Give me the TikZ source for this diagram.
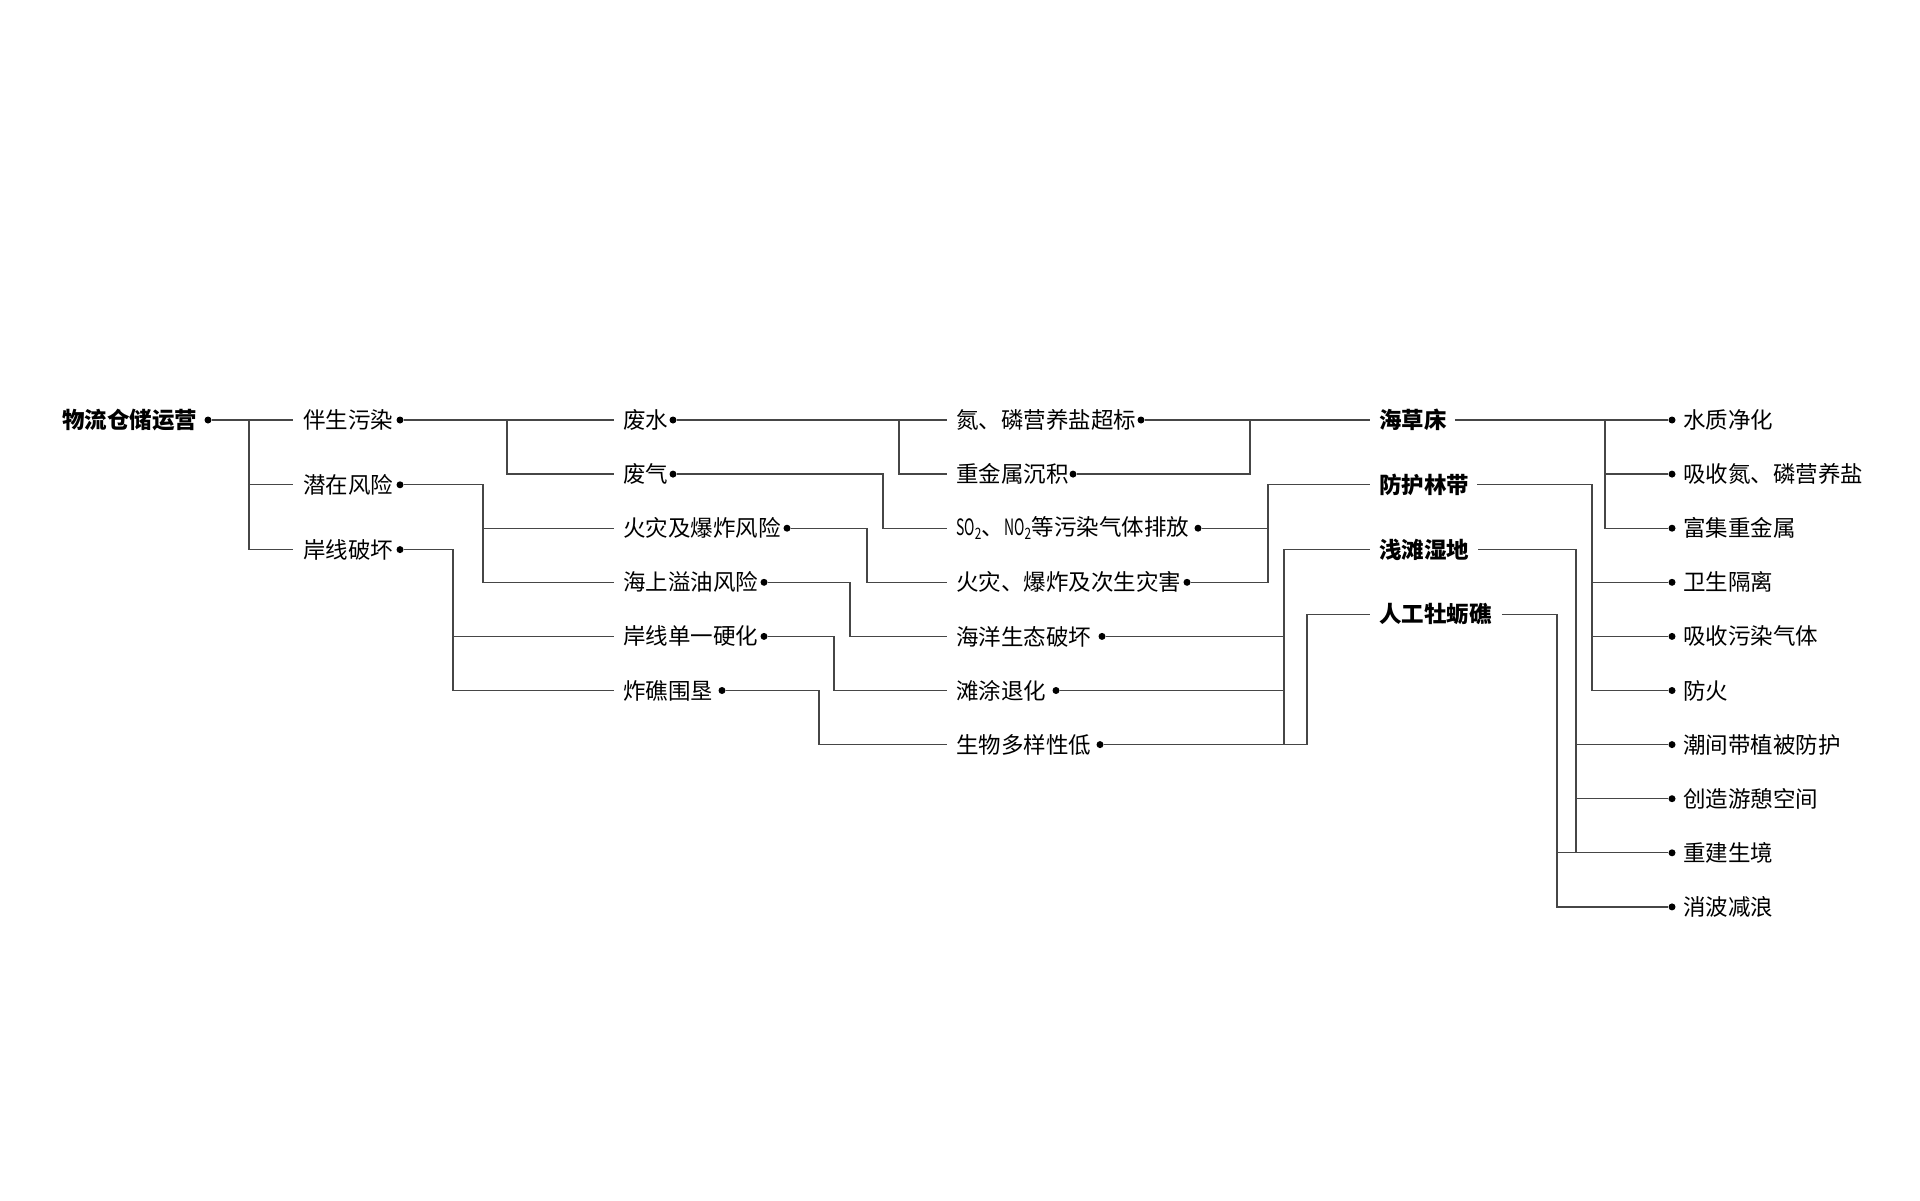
\documentclass[tikz,border=0pt]{standalone}
\usepackage{graphicx}
\usepackage{fontspec}
\setmainfont{Noto Sans CJK SC}
\begin{document}
\begin{tikzpicture}[x=1pt,y=-1pt]
\definecolor{linec}{RGB}{70,70,70}
\tikzset{
  lbl/.style={anchor=west, inner sep=0pt, font=\fontsize{22.5pt}{27pt}\selectfont},
  hd/.style={lbl, font=\fontsize{22.5pt}{27pt}\selectfont\bfseries},
  dotn/.style={circle, fill=black, inner sep=0pt, minimum size=7pt},
  conn/.style={draw=linec, line width=1.3pt},
}
\fill[white] (0,0) rectangle (1920,1200);
\useasboundingbox (0,0) rectangle (1920,1200);
% level 0
\node[hd] (A0) at (62,420) {物流仓储运营};
\node[dotn] (A0d) at (208,420) {};
% level 1
\node[lbl] (B1) at (303,420) {伴生污染};
\node[dotn] (B1d) at (400,420) {};
\node[lbl] (B2) at (303,484.8) {潜在风险};
\node[dotn] (B2d) at (400,484.8) {};
\node[lbl] (B3) at (303,549.6) {岸线破坏};
\node[dotn] (B3d) at (400,549.6) {};
% level 2
\node[lbl] (C1) at (623,420) {废水};
\node[dotn] (C1d) at (673,420) {};
\node[lbl] (C2) at (623,474.1) {废气};
\node[dotn] (C2d) at (673,474.1) {};
\node[lbl] (C3) at (623,528.2) {火灾及爆炸风险};
\node[dotn] (C3d) at (787,528.2) {};
\node[lbl] (C4) at (623,582.3) {海上溢油风险};
\node[dotn] (C4d) at (764,582.3) {};
\node[lbl] (C5) at (623,636.4) {岸线单一硬化};
\node[dotn] (C5d) at (764,636.4) {};
\node[lbl] (C6) at (623,690.5) {炸礁围垦};
\node[dotn] (C6d) at (722,690.5) {};
% level 3
\node[lbl] (D1) at (956,420) {氮、磷营养盐超标};
\node[dotn] (D1d) at (1141,420) {};
\node[lbl] (D2) at (956,474.1) {重金属沉积};
\node[dotn] (D2d) at (1073,474.1) {};
\node[lbl] (D3) at (956,528.2) {\scalebox{0.62}[1]{SO}\scalebox{0.75}[1]{\textsubscript{2}}、\scalebox{0.62}[1]{NO}\scalebox{0.75}[1]{\textsubscript{2}}等污染气体排放};
\node[dotn] (D3d) at (1198,528.2) {};
\node[lbl] (D4) at (956,582.3) {火灾、爆炸及次生灾害};
\node[dotn] (D4d) at (1187,582.3) {};
\node[lbl] (D5) at (956,636.4) {海洋生态破坏};
\node[dotn] (D5d) at (1102,636.4) {};
\node[lbl] (D6) at (956,690.5) {滩涂退化};
\node[dotn] (D6d) at (1056,690.5) {};
\node[lbl] (D7) at (956,744.6) {生物多样性低};
\node[dotn] (D7d) at (1100,744.6) {};
% level 4
\node[hd] (E1) at (1379,420) {海草床};
\node[hd] (E2) at (1379,484.8) {防护林带};
\node[hd] (E3) at (1379,549.6) {浅滩湿地};
\node[hd] (E4) at (1379,614.4) {人工牡蛎礁};
% right column
\node[dotn] (F1d) at (1672,420) {};
\node[lbl] (F1) at (1683,420) {水质净化};
\node[dotn] (F2d) at (1672,474.1) {};
\node[lbl] (F2) at (1683,474.1) {吸收氮、磷营养盐};
\node[dotn] (F3d) at (1672,528.2) {};
\node[lbl] (F3) at (1683,528.2) {富集重金属};
\node[dotn] (F4d) at (1672,582.3) {};
\node[lbl] (F4) at (1683,582.3) {卫生隔离};
\node[dotn] (F5d) at (1672,636.4) {};
\node[lbl] (F5) at (1683,636.4) {吸收污染气体};
\node[dotn] (F6d) at (1672,690.5) {};
\node[lbl] (F6) at (1683,690.5) {防火};
\node[dotn] (F7d) at (1672,744.6) {};
\node[lbl] (F7) at (1683,744.6) {潮间带植被防护};
\node[dotn] (F8d) at (1672,798.7) {};
\node[lbl] (F8) at (1683,798.7) {创造游憩空间};
\node[dotn] (F9d) at (1672,852.8) {};
\node[lbl] (F9) at (1683,852.8) {重建生境};
\node[dotn] (F10d) at (1672,906.9) {};
\node[lbl] (F10) at (1683,906.9) {消波减浪};
% connectors level 0 -> 1
\draw[conn] (A0d.east) -- ([xshift=-10pt]B1.west);
\draw[conn] (249,420) |- ([xshift=-10pt]B2.west);
\draw[conn] (249,420) |- ([xshift=-10pt]B3.west);
% level 1 -> 2
\draw[conn] (B1d.east) -- ([xshift=-9pt]C1.west);
\draw[conn] (507,420) |- ([xshift=-9pt]C2.west);
\draw[conn] (B2d.east) -- (483,484.8) |- ([xshift=-9pt]C4.west);
\draw[conn] (483,528.2) -- ([xshift=-9pt]C3.west);
\draw[conn] (B3d.east) -- (453,549.6) |- ([xshift=-9pt]C6.west);
\draw[conn] (453,636.4) -- ([xshift=-9pt]C5.west);
% level 2 -> 3
\draw[conn] (C1d.east) -- ([xshift=-9pt]D1.west);
\draw[conn] (899,420) |- ([xshift=-9pt]D2.west);
\draw[conn] (C2d.east) -- (883,474.1) |- ([xshift=-9pt]D3.west);
\draw[conn] (C3d.east) -- (867,528.2) |- ([xshift=-9pt]D4.west);
\draw[conn] (C4d.east) -- (850,582.3) |- ([xshift=-9pt]D5.west);
\draw[conn] (C5d.east) -- (834,636.4) |- ([xshift=-9pt]D6.west);
\draw[conn] (C6d.east) -- (819,690.5) |- ([xshift=-9pt]D7.west);
% level 3 -> 4
\draw[conn] (D1d.east) -- ([xshift=-9pt]E1.west);
\draw[conn] (D2d.east) -| (1250,420);
\draw[conn] (D3d.east) -- (1268,528.2);
\draw[conn] (D4d.east) -- (1268,582.3) |- ([xshift=-9pt]E2.west);
\draw[conn] (D5d.east) -- (1284,636.4);
\draw[conn] (D6d.east) -- (1284,690.5);
\draw[conn] (1284,744.6) |- ([xshift=-9pt]E3.west);
\draw[conn] (D7d.east) -- (1307,744.6) |- ([xshift=-9pt]E4.west);
% level 4 -> right
\draw[conn] ([xshift=8pt]E1.east) -- (F1d.west);
\draw[conn] (1605,420) |- (F3d.west);
\draw[conn] (1605,474.1) -- (F2d.west);
\draw[conn] ([xshift=8pt]E2.east) -- (1592,484.8) |- (F6d.west);
\draw[conn] (1592,582.3) -- (F4d.west);
\draw[conn] (1592,636.4) -- (F5d.west);
\draw[conn] ([xshift=9pt]E3.east) -- (1576,549.6) |- (F9d.west);
\draw[conn] (1576,744.6) -- (F7d.west);
\draw[conn] (1576,798.7) -- (F8d.west);
\draw[conn] ([xshift=10pt]E4.east) -- (1557,614.4) |- (F10d.west);
\draw[conn] (1557,852.8) -- (1576,852.8);
\end{tikzpicture}
\end{document}
